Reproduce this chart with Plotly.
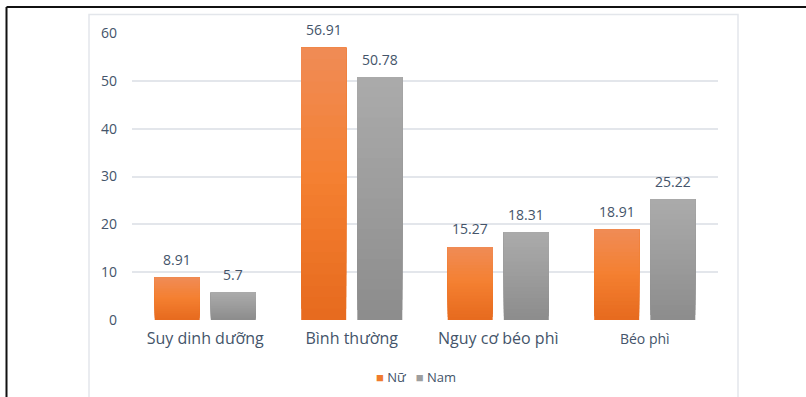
import plotly.graph_objects as go

# Nutritional status by sex (%)
categories = ["Suy dinh dưỡng", "Bình thường", "Nguy cơ béo phì", "Béo phì"]
nu_values = [8.91, 56.91, 15.27, 18.91]
nam_values = [5.7, 50.78, 18.31, 25.22]
y_ticks = [0, 10, 20, 30, 40, 50, 60]
tick_font_sizes = [16, 16, 16, 14]

TEXT = "#44546A"
FONT = "Open Sans"

# (series name, values, gradient stops bottom->mid->top, bar offset, legend colour)
series = [
    ("Nữ", nu_values, [(230, 106, 30), (244, 127, 48), (240, 140, 86)], -0.345, "#F07B2E"),
    ("Nam", nam_values, [(140, 140, 140), (156, 156, 156), (171, 171, 171)], 0.038, "#9E9E9E"),
]
BAR_W = 0.307
STEPS = 24

def grad(stops, t):
    if t <= 0.5:
        c0, c1, u = stops[0], stops[1], t / 0.5
    else:
        c0, c1, u = stops[1], stops[2], (t - 0.5) / 0.5
    return "rgb(%d,%d,%d)" % tuple(round(a + (b - a) * u) for a, b in zip(c0, c1))

def px_x(p):
    return (p - 132) / 586

def px_y(q):
    return (320 - q) / 287.5

x_idx = list(range(len(categories)))
fig = go.Figure()
annotations = []

for name, vals, stops, off, _ in series:
    # vertical gradient: each layer runs from its start up to the bar top,
    # lighter layers drawn over darker ones
    for k in range(STEPS):
        fig.add_trace(go.Bar(
            x=x_idx,
            base=[v * k / STEPS for v in vals],
            y=[v * (STEPS - k) / STEPS for v in vals],
            offset=off, width=BAR_W, showlegend=False,
            name=name, hoverinfo="skip",
            marker=dict(color=grad(stops, (k + 0.5) / STEPS), line=dict(width=0)),
        ))
    # value labels above each bar
    for i, v in zip(x_idx, vals):
        annotations.append(dict(
            x=i + off + BAR_W / 2, y=v, xref="x", yref="y",
            text=f"{v:g}", showarrow=False, yanchor="middle", yshift=18,
            font=dict(size=14, color=TEXT, family=FONT),
        ))

# legend row
legend_text = "   ".join(
    f'<span style="color:{col}">■</span> {name}' for name, _, _, _, col in series
)
annotations.append(dict(
    x=px_x(416), y=px_y(377), xref="paper", yref="paper",
    text=legend_text, showarrow=False, xanchor="center", yanchor="middle",
    font=dict(size=13, color=TEXT, family=FONT),
))

shapes = [
    # outer frame (top and left edges)
    dict(type="line", xref="paper", yref="paper", x0=px_x(6.5), x1=px_x(810),
         y0=px_y(6.5), y1=px_y(6.5), line=dict(color="#111111", width=2)),
    dict(type="line", xref="paper", yref="paper", x0=px_x(6.5), x1=px_x(6.5),
         y0=px_y(6.5), y1=px_y(405), line=dict(color="#111111", width=2)),
    # chart area border
    dict(type="rect", xref="paper", yref="paper", x0=px_x(89), x1=px_x(738),
         y0=px_y(420), y1=px_y(14), line=dict(color="#E3E6EB", width=1.5),
         layer="below"),
]

ticktext = [f'<span style="font-size:{s}px">{c}</span>'
            for c, s in zip(categories, tick_font_sizes)]

fig.update_layout(
    width=806, height=397,
    margin=dict(l=132, r=88, t=32.5, b=77),
    paper_bgcolor="white", plot_bgcolor="white",
    barmode="overlay",
    font=dict(family=FONT, color=TEXT, size=14),
    showlegend=False,
    xaxis=dict(tickmode="array", tickvals=x_idx, ticktext=ticktext,
               range=[-0.5, len(categories) - 0.5], showgrid=False,
               zeroline=False, showline=False, ticks="",
               ticklabelstandoff=7,
               tickfont=dict(size=16, color=TEXT, family=FONT)),
    yaxis=dict(range=[0, 60], tickvals=y_ticks, showgrid=True,
               gridcolor="#E3E6EB", gridwidth=1.5, zeroline=False,
               ticks="", ticklabelstandoff=14,
               tickfont=dict(size=14, color=TEXT, family=FONT)),
    shapes=shapes,
    annotations=annotations,
)

fig.write_html("out.html")
